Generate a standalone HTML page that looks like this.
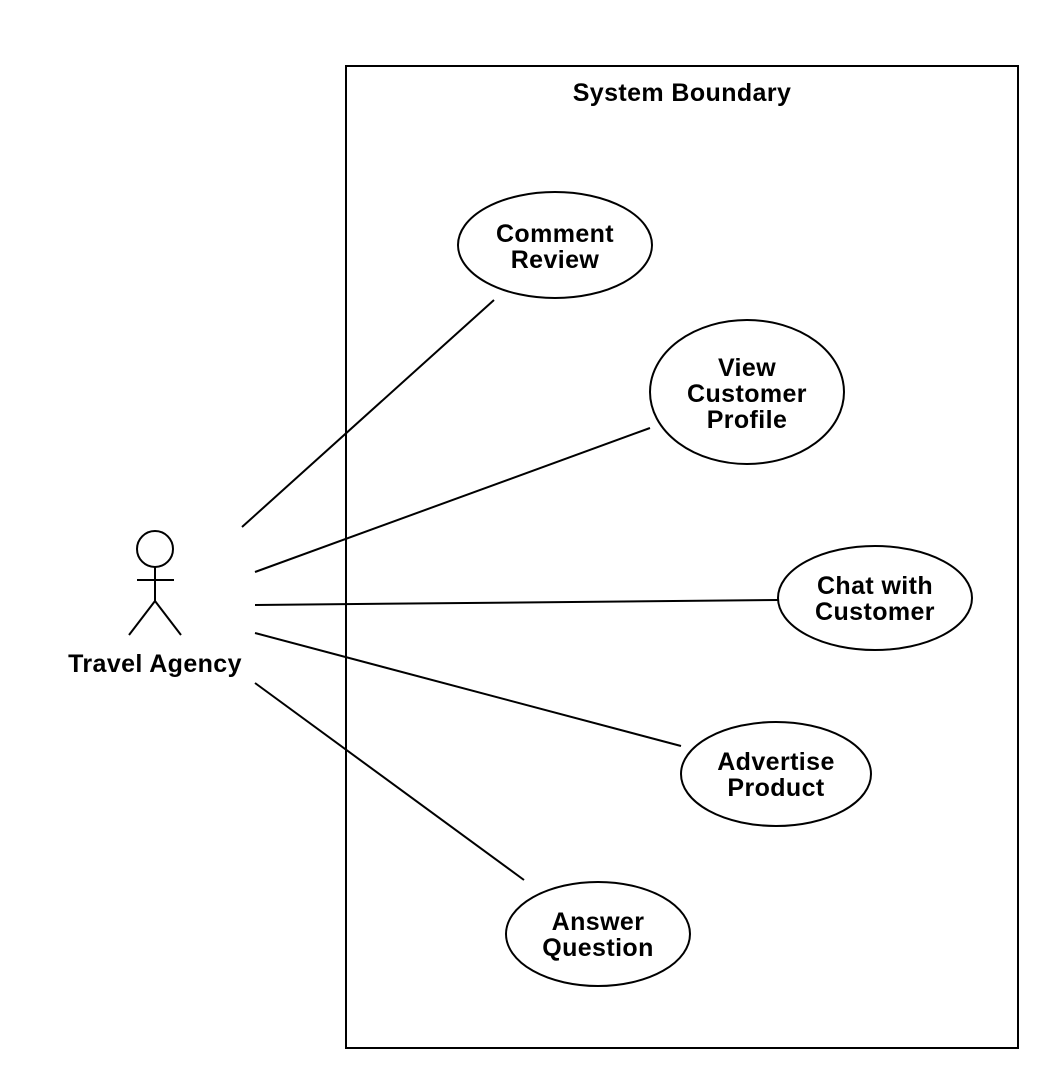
<!DOCTYPE html>
<html><head><style>body{margin:0;background:#fff}svg{display:block}text{font-family:"Liberation Sans",sans-serif;font-weight:bold;font-size:25px;letter-spacing:0.4px;text-anchor:middle;fill:#000}</style></head>
<body>
<svg width="1060" height="1082" viewBox="0 0 1060 1082">
<g fill="none" stroke="#000" stroke-width="2">
<rect x="346" y="66" width="672" height="982"/>
<circle cx="155" cy="549" r="18"/>
<line x1="155" y1="567" x2="155" y2="601"/>
<line x1="137" y1="580" x2="174" y2="580"/>
<line x1="155" y1="601" x2="129" y2="635"/>
<line x1="155" y1="601" x2="181" y2="635"/>
<ellipse cx="555" cy="245" rx="97" ry="53"/>
<ellipse cx="747" cy="392" rx="97" ry="72"/>
<ellipse cx="875" cy="598" rx="97" ry="52"/>
<ellipse cx="776" cy="774" rx="95" ry="52"/>
<ellipse cx="598" cy="934" rx="92" ry="52"/>
<line x1="242" y1="527" x2="494" y2="300"/>
<line x1="255" y1="572" x2="650" y2="428"/>
<line x1="255" y1="605" x2="778" y2="600"/>
<line x1="255" y1="633" x2="681" y2="746"/>
<line x1="255" y1="683" x2="524" y2="880"/>
</g>
<text x="682" y="101">System Boundary</text>
<text x="155" y="672">Travel Agency</text>
<text x="555" y="242">Comment</text><text x="555" y="268">Review</text>
<text x="747" y="376">View</text><text x="747" y="402">Customer</text><text x="747" y="428">Profile</text>
<text x="875" y="594">Chat with</text><text x="875" y="620">Customer</text>
<text x="776" y="770">Advertise</text><text x="776" y="796">Product</text>
<text x="598" y="930">Answer</text><text x="598" y="956">Question</text>
</svg>
</body></html>
